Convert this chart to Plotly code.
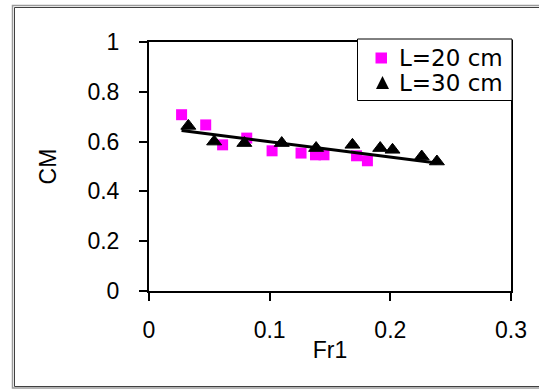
import numpy as np
import plotly.graph_objects as go

# Data
x_l20 = [0.027, 0.047, 0.061, 0.081, 0.102, 0.126, 0.138, 0.145, 0.172, 0.181]
y_l20 = [0.708, 0.667, 0.587, 0.614, 0.563, 0.554, 0.547, 0.547, 0.543, 0.523]
x_l30 = [0.0326, 0.054, 0.079, 0.110, 0.1385, 0.1686, 0.1916, 0.2018, 0.226, 0.2386]
y_l30 = [0.663, 0.600, 0.594, 0.594, 0.574, 0.587, 0.574, 0.567, 0.540, 0.520]
series_names = ["L=20 cm", "L=30 cm"]
x_ticks = [0, 0.1, 0.2, 0.3]
y_ticks = [0, 0.2, 0.4, 0.6, 0.8, 1]

FONT = "Liberation Sans, Arial, sans-serif"
LEG_FONT = "DejaVu Sans, sans-serif"

# Linear trend fitted through all points
all_x = np.array(x_l20 + x_l30)
all_y = np.array(y_l20 + y_l30)
slope, intercept = np.polyfit(all_x, all_y, 1)
tx = np.array([all_x.min(), all_x.max()])
ty = slope * tx + intercept

fig = go.Figure()
fig.add_trace(go.Scatter(
    x=x_l20, y=y_l20, mode="markers", name=series_names[0], showlegend=False,
    marker=dict(symbol="square", size=11, color="#FF00FF", line=dict(width=0)),
))
fig.add_trace(go.Scatter(
    x=tx, y=ty, mode="lines", showlegend=False,
    line=dict(color="black", width=3), hoverinfo="skip",
))
fig.add_trace(go.Scatter(
    x=x_l30, y=y_l30, mode="markers", name=series_names[1], showlegend=False,
    marker=dict(symbol="triangle-up", size=13, color="black",
                line=dict(width=1, color="black")),
))

W, H = 539, 390
L, R, T, B = 149, 28, 42, 99
pw, ph = W - L - R, H - T - B


def px(xp):
    return (xp - L) / pw


def py(yp):
    return (H - B - yp) / ph


# Legend (drawn manually to match the compact box)
leg_shapes = [
    dict(type="rect", xref="paper", yref="paper",
         x0=px(357.5), x1=px(512), y0=py(100.5), y1=py(39),
         line=dict(color="black", width=1), fillcolor="white", layer="above"),
    dict(type="rect", xref="paper", yref="paper",
         x0=px(375.5), x1=px(387), y0=py(63.5), y1=py(52.5),
         line=dict(width=0), fillcolor="#FF00FF", layer="above"),
    dict(type="path", xref="paper", yref="paper",
         path=f"M {px(376)} {py(89)} L {px(389)} {py(89)} L {px(382.5)} {py(76)} Z",
         line=dict(width=0), fillcolor="black", layer="above"),
]
leg_annots = [
    dict(text=series_names[0], xref="paper", yref="paper", x=px(397), y=py(58),
         xanchor="left", yanchor="middle", showarrow=False,
         font=dict(family=LEG_FONT, size=23, color="black")),
    dict(text=series_names[1], xref="paper", yref="paper", x=px(397), y=py(83),
         xanchor="left", yanchor="middle", showarrow=False,
         font=dict(family=LEG_FONT, size=23, color="black")),
]

fig.update_layout(
    width=W, height=H,
    margin=dict(l=L, r=R, t=T, b=B),
    paper_bgcolor="white", plot_bgcolor="white",
    font=dict(family=FONT, size=23, color="black"),
    showlegend=False,
    xaxis=dict(
        range=[0, 0.3], tickvals=x_ticks, ticktext=["0", "0.1", "0.2", "0.3"],
        showgrid=False, zeroline=False,
        showline=True, linecolor="black", linewidth=2, mirror=True,
        ticks="outside", ticklen=8, tickwidth=1.5, tickcolor="black",
        tickfont=dict(family=FONT, size=23),
        ticklabelstandoff=9,
        title=dict(text="Fr1", font=dict(family=FONT, size=23), standoff=0),
    ),
    yaxis=dict(
        range=[0, 1], tickvals=y_ticks, ticktext=["0", "0.2", "0.4", "0.6", "0.8", "1"],
        showgrid=False, zeroline=False,
        showline=True, linecolor="black", linewidth=2, mirror=True,
        ticks="outside", ticklen=8, tickwidth=1.5, tickcolor="black",
        tickfont=dict(family=FONT, size=23),
        ticklabelstandoff=15,
        title=dict(text="CM", font=dict(family=FONT, size=23), standoff=24),
    ),
    shapes=[
        dict(type="rect", xref="paper", yref="paper",
             x0=px(12.5), x1=px(560), y0=py(388), y1=py(5.5),
             line=dict(color="#9a9a9a", width=1.5), layer="below"),
        dict(type="rect", xref="paper", yref="paper",
             x0=px(14.5), x1=px(560), y0=py(386.5), y1=py(7.5),
             line=dict(color="#404040", width=1), layer="below"),
    ] + leg_shapes,
    annotations=leg_annots,
)

fig.write_html("out.html")
